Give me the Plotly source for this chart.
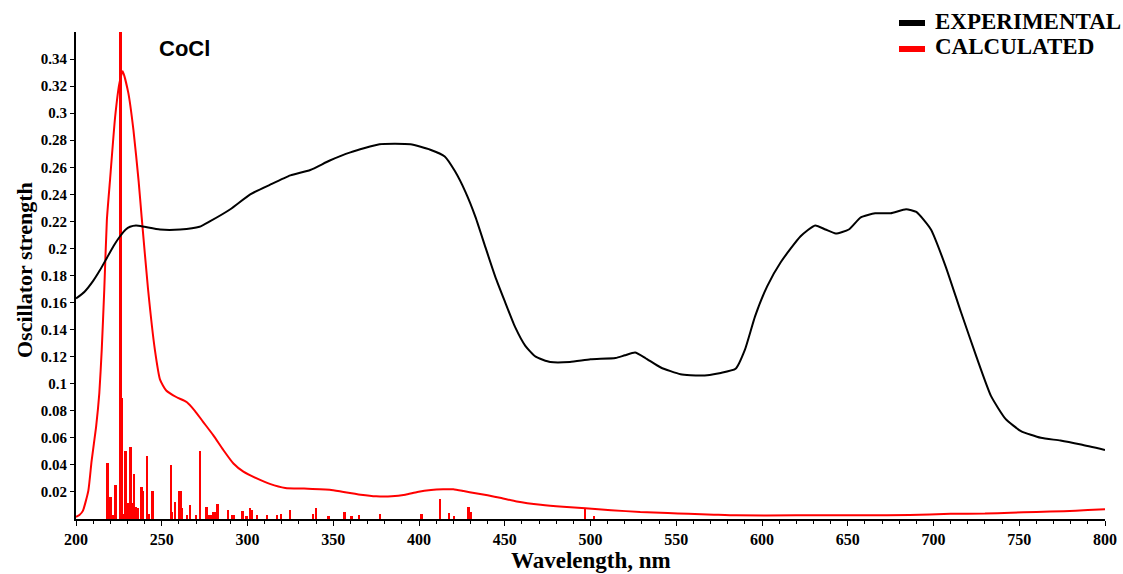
import plotly.graph_objects as go

# ---------------- data ----------------
exp_wl = [200, 205, 210, 214, 218, 222, 225.7, 229, 231.5, 235, 240, 249, 260.7, 272, 278, 290, 301.6,
          313, 325, 336.6, 348, 360, 377, 395, 406.6, 415, 421, 427, 433, 438.7, 444.5, 450, 456,
          462, 468, 476.6, 488, 500, 514.6, 520, 526, 532, 541, 552.5, 564, 576, 584.6, 590,
          596, 603, 611, 622.5, 631, 637, 643, 650.6, 657.6, 666, 675, 684, 690, 698.5, 707, 716,
          725, 733.5, 742, 751, 762.6, 774, 786, 800]
exp_val = [0.163, 0.168, 0.176, 0.184, 0.193, 0.202, 0.209, 0.214, 0.216, 0.217, 0.216, 0.214, 0.214,
           0.216, 0.220, 0.229, 0.240, 0.247, 0.254, 0.258, 0.265, 0.271, 0.277, 0.277, 0.273,
           0.268, 0.257, 0.242, 0.223, 0.201, 0.179, 0.161, 0.142, 0.128, 0.120, 0.116, 0.116,
           0.118, 0.119, 0.121, 0.123, 0.119, 0.112, 0.107, 0.106, 0.108, 0.111, 0.125,
           0.150, 0.172, 0.190, 0.209, 0.217, 0.214, 0.211, 0.214, 0.223, 0.226, 0.226, 0.229,
           0.227, 0.214, 0.187, 0.153, 0.120, 0.091, 0.074, 0.065, 0.060, 0.058, 0.055, 0.051]

calc_wl = [200, 202, 204, 207.2, 209.1, 211.7, 213.6, 215, 216.5, 218, 219.8, 222.8, 225.3, 227.2,
           230.5, 233.5, 236.5, 238.3, 242, 246, 249, 252.6, 258.7, 264.5, 269.3, 274, 280, 285.9,
           291.8, 297.6, 305.4, 313, 322, 333, 348, 356, 366, 375, 384, 392, 399, 407, 414, 420,
           426, 433, 440, 448, 457, 471, 484, 497, 512, 529, 545, 557, 572, 585, 620, 660, 686,
           710, 730, 745, 760, 776, 790, 800]
calc_val = [0.0015, 0.003, 0.006, 0.021, 0.043, 0.068, 0.093, 0.125, 0.17, 0.221, 0.25, 0.297, 0.322,
            0.331, 0.315, 0.2875, 0.25, 0.223, 0.17, 0.125, 0.103, 0.095, 0.090, 0.0865, 0.080,
            0.072, 0.062, 0.051, 0.041, 0.035, 0.030, 0.026, 0.023, 0.0225, 0.0217, 0.020, 0.018,
            0.0168, 0.0168, 0.018, 0.020, 0.0215, 0.022, 0.022, 0.0207, 0.019, 0.0175, 0.0155,
            0.013, 0.0105, 0.009, 0.0079, 0.0065, 0.0052, 0.0045, 0.0038, 0.0032, 0.0027, 0.0027,
            0.0027, 0.0030, 0.0038, 0.0040, 0.0047, 0.0052, 0.0058, 0.0066, 0.0072]

stick_wl = [218.5, 219.4, 220.2, 221.5, 223.2, 226.1, 226.7, 227.5, 229.0, 230.5, 231.9, 232.7, 233.9,
            234.8, 236.0, 238.3, 239.3, 241.6, 242.5, 244.7, 255.4, 256.0, 257.8, 260.1, 261.1,
            261.7, 265.0, 266.5, 270.0, 272.4, 276.3, 277.3, 279.0, 280.0, 281.3, 282.7, 288.9,
            291.0, 292.0, 297.3, 299.6, 301.6, 302.6, 305.6, 311.4, 317.2, 319.7, 324.9, 338.5,
            340.0, 347.3, 356.6, 360.8, 365.2, 377.4, 401.7, 412.4, 417.5, 420.6, 429.0, 430.4,
            497.0, 502.3]
stick_val = [0.0415, 0.0046, 0.016, 0.003, 0.025, 0.40, 0.0895, 0.004, 0.0506, 0.012, 0.053, 0.012,
             0.033, 0.009, 0.0083, 0.0236, 0.0206, 0.0465, 0.004, 0.0206, 0.0396, 0.005, 0.0128,
             0.021, 0.021, 0.0085, 0.003, 0.0103, 0.003, 0.050, 0.0089, 0.003, 0.003, 0.005, 0.005,
             0.0108, 0.0064, 0.003, 0.003, 0.006, 0.002, 0.0079, 0.007, 0.003, 0.003, 0.003, 0.004,
             0.007, 0.004, 0.0079, 0.002, 0.0054, 0.002, 0.003, 0.004, 0.0035, 0.0145, 0.0047,
             0.002, 0.0089, 0.005, 0.0074, 0.0022]

x_ticks = [200, 250, 300, 350, 400, 450, 500, 550, 600, 650, 700, 750, 800]
y_ticks = [0.02, 0.04, 0.06, 0.08, 0.1, 0.12, 0.14, 0.16, 0.18, 0.2, 0.22, 0.24, 0.26, 0.28, 0.3,
           0.32, 0.34]
y_ticklabels = [f"{v:g}" for v in y_ticks]

series_names = ["EXPERIMENTAL", "CALCULATED"]
series_colors = ["#000000", "#ff0000"]

# ---------------- layout geometry ----------------
W, H = 1123, 574
L, R, T, B = 76, 18, 32, 55
PW, PH = W - L - R, H - T - B

def px(x):
    return (x - L) / PW

def py(y):
    return (H - B - y) / PH

SERIF = "Liberation Serif, Times New Roman, serif"

fig = go.Figure()
fig.add_trace(go.Bar(x=stick_wl, y=stick_val, width=1.1,
                     marker=dict(color="#ff0000", line=dict(width=0)), showlegend=False))
fig.add_trace(go.Scatter(x=calc_wl, y=calc_val, mode="lines",
                         line=dict(color="#ff0000", width=2, shape="spline", smoothing=0.5),
                         showlegend=False))
fig.add_trace(go.Scatter(x=exp_wl, y=exp_val, mode="lines",
                         line=dict(color="#000000", width=2, shape="spline", smoothing=0.5),
                         showlegend=False))

fig.update_layout(
    template="none",
    width=W, height=H, autosize=False,
    margin=dict(l=L, r=R, t=T, b=B, pad=0),
    paper_bgcolor="white", plot_bgcolor="white",
    barmode="overlay", bargap=0,
    showlegend=False,
    xaxis=dict(range=[200, 800], showgrid=False, zeroline=False, automargin=False,
               showline=True, linecolor="black", linewidth=2,
               tickmode="array", tickvals=x_ticks, ticks="outside", ticklen=5,
               tickwidth=1, tickcolor="black",
               minor=dict(dtick=10, ticks="outside", ticklen=3, tickcolor="black", tickwidth=1,
                          showgrid=False),
               tickfont=dict(family=SERIF, size=16, color="black", weight="bold")),
    yaxis=dict(range=[0, 0.36], showgrid=False, zeroline=False, automargin=False,
               showline=True, linecolor="black", linewidth=2,
               tickmode="array", tickvals=y_ticks, ticktext=y_ticklabels,
               ticks="outside", ticklen=4, tickwidth=1, tickcolor="black",
               tickfont=dict(family=SERIF, size=15, color="black", weight="bold")),
)

annotations = [
    dict(text="Wavelength, nm", x=0.5, y=py(560), xref="paper", yref="paper",
         xanchor="center", yanchor="middle", showarrow=False,
         font=dict(family=SERIF, size=23, color="black", weight="bold")),
    dict(text="Oscillator strength", x=px(24), y=py(270), xref="paper", yref="paper",
         xanchor="center", yanchor="middle", showarrow=False, textangle=-90,
         font=dict(family=SERIF, size=22, color="black", weight="bold")),
    dict(text="CoCl", x=px(184), y=py(48.5), xref="paper", yref="paper",
         xanchor="center", yanchor="middle", showarrow=False,
         font=dict(family="Liberation Sans, Arial, sans-serif", size=22, color="black",
                   weight="bold")),
]
shapes = []
legend_y = [23, 49]
for name, col, yy in zip(series_names, series_colors, legend_y):
    shapes.append(dict(type="rect", xref="paper", yref="paper",
                       x0=px(899), x1=px(925), y0=py(yy + 3), y1=py(yy - 3),
                       fillcolor=col, line=dict(width=0)))
    annotations.append(dict(text=name, x=px(933), y=py(yy - 2), xref="paper", yref="paper",
                            xanchor="left", yanchor="middle", showarrow=False,
                            font=dict(family=SERIF, size=23, color="black", weight="bold")))

fig.update_layout(annotations=annotations, shapes=shapes)
fig.write_html("out.html")
